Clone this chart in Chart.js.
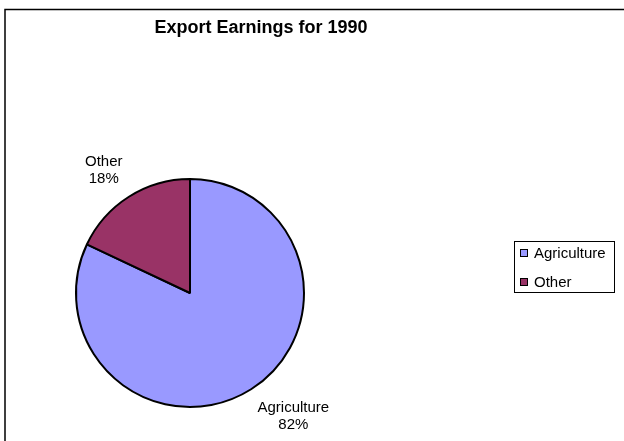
<!DOCTYPE html>
<html>
<head>
<meta charset="utf-8">
<script src="https://cdn.jsdelivr.net/npm/chart.js@4"></script>
<style>
  body { margin: 0; background: #fff; }
  #wrap { width: 624px; height: 441px; position: relative; }
</style>
</head>
<body>
<div id="wrap"><canvas id="pie" width="624" height="441"></canvas></div>
<script>
const categories = ["Agriculture", "Other"];
const shares = [82, 18];
const sliceColors = ["#9999FF", "#993366"];
const chartTitle = "Export Earnings for 1990";

const FONT = "'Liberation Sans', Arial, sans-serif";

// frame, title and the boxed legend, drawn the way the old spreadsheet did
const frame = {
  id: "frame",
  beforeDraw(chart) {
    const { ctx } = chart;
    ctx.save();
    ctx.fillStyle = "#fff";
    ctx.fillRect(0, 0, chart.width, chart.height);
    ctx.strokeStyle = "#000";
    ctx.lineWidth = 1.5;
    ctx.strokeRect(5, 9.5, 700, 500);
    ctx.restore();
  },
  afterDraw(chart) {
    const { ctx } = chart;
    ctx.save();
    ctx.fillStyle = "#000";
    ctx.font = "bold 18px " + FONT;
    ctx.textAlign = "center";
    ctx.fillText(chartTitle, 261, 33);

    // legend
    ctx.strokeStyle = "#000";
    ctx.lineWidth = 1;
    ctx.strokeRect(514.5, 241.5, 100, 51);
    ctx.font = "15px " + FONT;
    ctx.textAlign = "left";
    categories.forEach((c, i) => {
      const y = 249 + i * 29;
      ctx.fillStyle = sliceColors[i];
      ctx.fillRect(520, y, 8, 8);
      ctx.strokeRect(520.5, y + 0.5, 7, 7);
      ctx.fillStyle = "#000";
      ctx.fillText(c, 534, y + 9);
    });
    ctx.restore();
  },
};

// "name / pct" labels outside each slice, nearest corner of the text box on the mid-angle ray
const pieLabels = {
  id: "pieLabels",
  afterDatasetsDraw(chart) {
    const { ctx } = chart;
    const meta = chart.getDatasetMeta(0);
    const total = shares.reduce((a, b) => a + b, 0);
    const lineH = 17;
    ctx.save();
    ctx.font = "15px " + FONT;
    ctx.fillStyle = "#000";
    ctx.textAlign = "center";
    meta.data.forEach((arc, i) => {
      const { x, y, startAngle, endAngle, outerRadius } = arc.getProps(["x", "y", "startAngle", "endAngle", "outerRadius"], true);
      const mid = (startAngle + endAngle) / 2;
      const px = x + Math.cos(mid) * (outerRadius + 12);
      const py = y + Math.sin(mid) * (outerRadius + 12);
      const lines = [categories[i], Math.round((shares[i] / total) * 100) + "%"];
      const w = Math.max(...lines.map((l) => ctx.measureText(l).width));
      const h = lineH * 2;
      const left = Math.cos(mid) >= 0 ? px : px - w;
      const top = Math.sin(mid) >= 0 ? py : py - h;
      lines.forEach((l, j) => ctx.fillText(l, left + w / 2, top + 13 + j * lineH));
    });
    ctx.restore();
  },
};

new Chart(document.getElementById("pie"), {
  type: "pie",
  data: {
    labels: categories,
    datasets: [
      {
        data: shares,
        backgroundColor: sliceColors,
        borderColor: "#000",
        borderWidth: 2,
        hoverOffset: 0,
      },
    ],
  },
  options: {
    responsive: false,
    animation: false,
    layout: { padding: { left: 75, top: 178, right: 319, bottom: 33 } },
    plugins: {
      legend: { display: false },
      title: { display: false },
      tooltip: { enabled: false },
    },
  },
  plugins: [frame, pieLabels],
});
</script>
</body>
</html>
